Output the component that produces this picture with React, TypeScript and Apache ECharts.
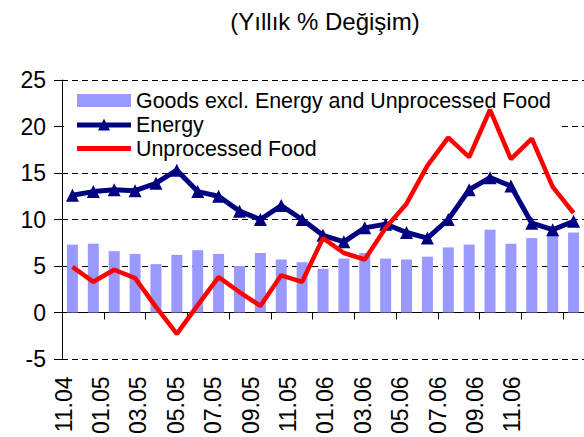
import React, { useEffect, useRef } from "react";
import * as echarts from "echarts";

const months = [
  "11.04", "12.04", "01.05", "02.05", "03.05", "04.05", "05.05", "06.05", "07.05",
  "08.05", "09.05", "10.05", "11.05", "12.05", "01.06", "02.06", "03.06", "04.06",
  "05.06", "06.06", "07.06", "08.06", "09.06", "10.06", "11.06",
];
const tickLabels = [
  "11.04", "01.05", "03.05", "05.05", "07.05", "09.05", "11.05",
  "01.06", "03.06", "05.06", "07.06", "09.06", "11.06",
];
const goodsExcl = [
  7.3, 7.4, 6.6, 6.3, 5.2, 6.2, 6.7, 6.3, 5.0, 6.4, 5.7, 5.4, 4.7,
  5.8, 6.4, 5.8, 5.7, 6.0, 7.0, 7.3, 8.9, 7.4, 8.0, 8.3, 8.6,
];
const energy = [
  12.6, 13.0, 13.2, 13.1, 13.9, 15.3, 13.0, 12.5, 10.9, 10.0, 11.5, 10.0, 8.3,
  7.6, 9.1, 9.5, 8.6, 8.0, 10.0, 13.2, 14.5, 13.6, 9.6, 8.9, 9.8,
];
const unprocessedFood = [
  4.9, 3.3, 4.6, 3.7, 0.6, -2.3, 0.8, 3.8, 2.2, 0.7, 4.0, 3.3, 8.0,
  6.4, 5.7, 9.1, 11.7, 15.8, 18.8, 16.7, 21.8, 16.5, 18.7, 13.5, 10.7,
];

const FONT = "'Liberation Sans', Arial, sans-serif";
const ICON_LINE = "path://M0,4L54,4L54,9L0,9Z";
const ICON_LINE_TRI = "path://M0,4L54,4L54,9L0,9ZM27,0L33,12L21,12Z";

export default function App() {
  const ref = useRef<HTMLDivElement>(null);
  useEffect(() => {
    if (!ref.current) return;
    const chart = echarts.init(ref.current, null, { renderer: "svg" });
    chart.setOption({
      animation: false,
      backgroundColor: "#ffffff",
      textStyle: { fontFamily: FONT, color: "#000" },
      title: {
        text: "(Yıllık % Değişim)",
        left: 320,
        textAlign: "center",
        top: 4,
        textStyle: { fontFamily: FONT, fontSize: 24, fontWeight: "normal", color: "#000" },
      },
      legend: {
        orient: "vertical",
        left: 64,
        top: 85,
        z: 1,
        padding: [5, 7, 5, 13],
        backgroundColor: "#ffffff",
        itemWidth: 54,
        itemHeight: 13,
        itemGap: 3,
        symbolKeepAspect: true,
        itemStyle: { borderWidth: 0 },
        lineStyle: { width: 0 },
        textStyle: { fontFamily: FONT, fontSize: 21.4, color: "#000", lineHeight: 21 },
        data: [
          { name: "Goods excl. Energy and Unprocessed Food", icon: "rect" },
          { name: "Energy", icon: ICON_LINE_TRI },
          { name: "Unprocessed Food", icon: ICON_LINE },
        ],
      },
      grid: [
        { left: 62, right: 0, top: 80, bottom: 78, containLabel: false },
        { left: 45, width: 486, top: 80, bottom: 78, containLabel: false },
      ],
      xAxis: [
        {
          type: "category",
          gridIndex: 0,
          data: months,
          boundaryGap: true,
          axisLine: { show: true, onZero: true, lineStyle: { color: "#000", width: 1 } },
          axisTick: { show: true, interval: 1, length: 7, lineStyle: { color: "#000" } },
          axisLabel: { show: false },
          splitLine: { show: false },
        },
        {
          type: "category",
          gridIndex: 1,
          data: tickLabels,
          boundaryGap: true,
          position: "bottom",
          axisLine: { show: false, onZero: false },
          axisTick: { show: false },
          axisLabel: {
            show: true,
            interval: 0,
            rotate: 90,
            margin: 19,
            fontFamily: FONT,
            fontSize: 23,
            color: "#000",
          },
          splitLine: { show: false },
        },
      ],
      yAxis: [
        {
          type: "value",
          gridIndex: 0,
          min: -5,
          max: 25,
          interval: 5,
          axisLine: { show: true, lineStyle: { color: "#000", width: 1 } },
          axisTick: { show: true, inside: false, length: 8, lineStyle: { color: "#000" } },
          axisLabel: { fontFamily: FONT, fontSize: 23, color: "#000", margin: 16 },
          splitLine: { show: true, lineStyle: { color: "#000", type: [6, 4], width: 1 } },
        },
        {
          type: "value",
          gridIndex: 1,
          min: -5,
          max: 25,
          show: false,
        },
      ],
      series: [
        {
          name: "Goods excl. Energy and Unprocessed Food",
          type: "bar",
          xAxisIndex: 0,
          yAxisIndex: 0,
          z: 2,
          data: goodsExcl,
          barWidth: 11,
          itemStyle: { color: "#9999ff" },
        },
        {
          name: "Energy",
          type: "line",
          xAxisIndex: 0,
          yAxisIndex: 0,
          z: 3,
          data: energy,
          symbol: "triangle",
          symbolSize: 13,
          showSymbol: true,
          lineStyle: { color: "#000080", width: 5 },
          itemStyle: { color: "#000080" },
        },
        {
          name: "Unprocessed Food",
          type: "line",
          xAxisIndex: 0,
          yAxisIndex: 0,
          z: 4,
          data: unprocessedFood,
          symbol: "none",
          lineStyle: { color: "#ff0000", width: 4.5 },
          itemStyle: { color: "#ff0000" },
        },
      ],
    });
    return () => chart.dispose();
  }, []);
  return (
    <div
      ref={ref}
      style={{ position: "fixed", left: 0, top: 0, width: 584, height: 437 }}
    />
  );
}
